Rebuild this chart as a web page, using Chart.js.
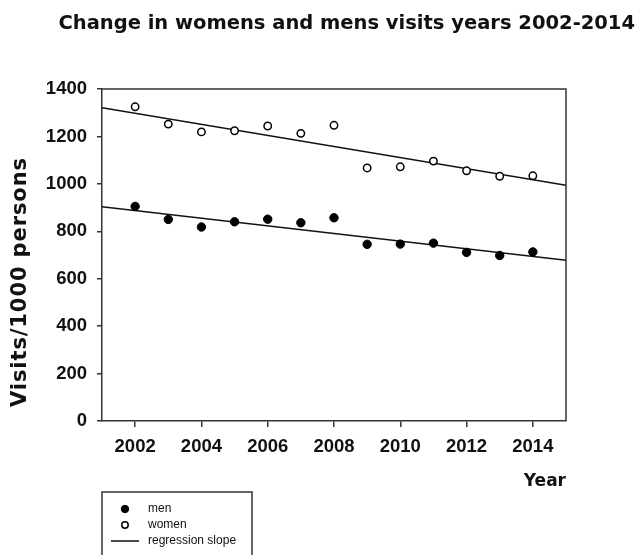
<!DOCTYPE html>
<html>
<head>
<meta charset="utf-8">
<script src="https://cdn.jsdelivr.net/npm/chart.js@4.4.1/dist/chart.umd.min.js"></script>
<style>
  body { margin: 0; background: #fff; }
  #wrap { width: 636px; height: 555px; }
</style>
</head>
<body>
<div id="wrap"><canvas id="visitsChart"></canvas></div>
<script>
// values
var years = [2002, 2003, 2004, 2005, 2006, 2007, 2008, 2009, 2010, 2011, 2012, 2013, 2014];
var womenVisits = [1325, 1252, 1219, 1224, 1244, 1213, 1247, 1067, 1072, 1096, 1055, 1032, 1034];
var menVisits = [905, 850, 818, 840, 851, 836, 857, 745, 746, 750, 711, 698, 713];

// regression slopes, end points at the plot edges
var slopeYears = [2001, 2015];
var womenSlope = [1321, 994];
var menSlope = [903, 678];

var xTicks = [2002, 2004, 2006, 2008, 2010, 2012, 2014];
var yTicks = [0, 200, 400, 600, 800, 1000, 1200, 1400];

function toPoints(xs, ys) {
    return xs.map(function(x, i) { return { x: x, y: ys[i] }; });
}

var ink = '#333';
var tickFont = { family: 'Liberation Sans', weight: 'bold', size: 18.5 };

// top and right edges of the plot box
var framePlugin = {
    id: 'frame',
    afterDraw: function(chart) {
        var a = chart.chartArea, ctx = chart.ctx;
        ctx.save();
        ctx.strokeStyle = ink;
        ctx.lineWidth = 1.5;
        ctx.beginPath();
        ctx.moveTo(a.left, a.top);
        ctx.lineTo(a.right, a.top);
        ctx.lineTo(a.right, a.bottom);
        ctx.stroke();
        ctx.restore();
    }
};

// y axis title, sits a bit below the middle of the axis in the original
var yTitlePlugin = {
    id: 'yTitle',
    afterDraw: function(chart, args, opts) {
        var ctx = chart.ctx;
        ctx.save();
        ctx.translate(opts.x, opts.y);
        ctx.rotate(-Math.PI / 2);
        ctx.font = 'bold 21px "DejaVu Sans"';
        ctx.letterSpacing = '0.9px';
        ctx.fillStyle = '#111';
        ctx.textAlign = 'center';
        ctx.textBaseline = 'middle';
        ctx.fillText(opts.text, 0, 0);
        ctx.restore();
    }
};

// boxed legend under the plot
var legendBoxPlugin = {
    id: 'legendBox',
    afterDraw: function(chart) {
        var ctx = chart.ctx;
        var left = chart.chartArea.left, top = 492;
        ctx.save();
        ctx.strokeStyle = ink;
        ctx.lineWidth = 1.5;
        ctx.strokeRect(left, top, 150, 80);
        ctx.font = '12px "Liberation Sans"';
        ctx.textBaseline = 'middle';
        var y = top + 17;
        chart.data.datasets.forEach(function(ds) {
            if (!ds.label) return;
            if (ds.showLine) {
                ctx.strokeStyle = ds.borderColor;
                ctx.lineWidth = ds.borderWidth;
                ctx.beginPath();
                ctx.moveTo(left + 9, y);
                ctx.lineTo(left + 37, y);
                ctx.stroke();
            } else {
                ctx.beginPath();
                ctx.arc(left + 23, y, ds.pointRadius - 0.5, 0, Math.PI * 2);
                ctx.fillStyle = ds.backgroundColor;
                ctx.fill();
                ctx.strokeStyle = ds.borderColor;
                ctx.lineWidth = ds.borderWidth;
                ctx.stroke();
            }
            ctx.fillStyle = '#111';
            ctx.fillText(ds.label, left + 46, y);
            y += 16;
        });
        ctx.restore();
    }
};

document.addEventListener('DOMContentLoaded', function() {
    var ctx = document.getElementById('visitsChart').getContext('2d');
    new Chart(ctx, {
        type: 'scatter',
        data: {
            datasets: [
                {
                    label: 'men',
                    data: toPoints(years, menVisits),
                    pointRadius: 4.2,
                    backgroundColor: '#000',
                    borderColor: '#000',
                    borderWidth: 1
                },
                {
                    label: 'women',
                    data: toPoints(years, womenVisits),
                    pointRadius: 3.7,
                    backgroundColor: '#fff',
                    borderColor: '#000',
                    borderWidth: 1.5
                },
                {
                    label: 'regression slope',
                    data: toPoints(slopeYears, menSlope),
                    showLine: true,
                    pointRadius: 0,
                    borderColor: '#111',
                    borderWidth: 1.5
                },
                {
                    label: '',
                    data: toPoints(slopeYears, womenSlope),
                    showLine: true,
                    pointRadius: 0,
                    borderColor: '#111',
                    borderWidth: 1.5
                }
            ]
        },
        options: {
            responsive: true,
            maintainAspectRatio: false,
            animation: false,
            layout: { padding: { left: 10, right: 1, top: 0, bottom: 63 } },
            plugins: {
                legend: { display: false },
                tooltip: { enabled: false },
                title: {
                    display: true,
                    text: 'Change in womens and mens visits years 2002-2014',
                    align: 'end',
                    color: '#111',
                    font: { family: 'DejaVu Sans', weight: 'bold', size: 19.5 },
                    padding: { top: 11.8, bottom: 53.8 }
                },
                yTitle: { text: 'Visits/1000 persons', x: 21, y: 282 }
            },
            scales: {
                x: {
                    type: 'linear',
                    min: 2001,
                    max: 2015,
                    afterBuildTicks: function(s) { s.ticks = xTicks.map(function(v) { return { value: v }; }); },
                    afterFit: function(s) { s.height = 71; },
                    ticks: {
                        callback: function(v) { return String(v); },
                        font: tickFont,
                        color: '#111',
                        padding: 9,
                        maxRotation: 0,
                        autoSkip: false
                    },
                    grid: { drawOnChartArea: false, tickLength: 6, color: ink, lineWidth: 1.5 },
                    border: { color: ink, width: 1.5 },
                    title: {
                        display: true,
                        text: 'Year',
                        align: 'end',
                        color: '#111',
                        font: { family: 'DejaVu Sans', weight: 'bold', size: 17 },
                        padding: { top: 14, bottom: 0 }
                    }
                },
                y: {
                    min: 0,
                    max: 1400,
                    afterBuildTicks: function(s) { s.ticks = yTicks.map(function(v) { return { value: v }; }); },
                    afterFit: function(s) { s.width = 92; },
                    ticks: {
                        callback: function(v) { return String(v); },
                        font: tickFont,
                        color: '#111',
                        padding: 10
                    },
                    grid: { drawOnChartArea: false, tickLength: 5, color: ink, lineWidth: 1.5 },
                    border: { color: ink, width: 1.5 },
                    title: { display: false }
                },
                yRight: {
                    position: 'right',
                    display: true,
                    afterFit: function(s) { s.width = 69; },
                    ticks: { display: false },
                    grid: { display: false },
                    border: { display: false }
                }
            }
        },
        plugins: [framePlugin, yTitlePlugin, legendBoxPlugin]
    });
});
</script>
</body>
</html>
